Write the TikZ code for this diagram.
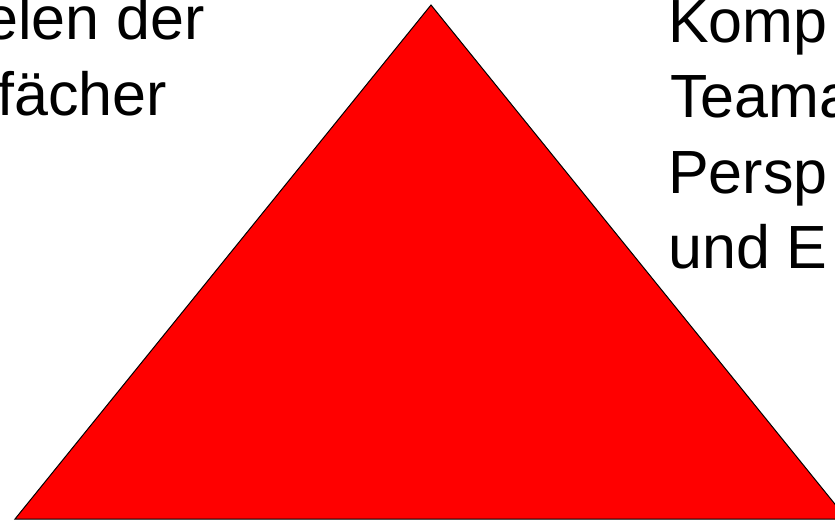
\documentclass[tikz,border=0pt]{standalone}
\usepackage{fontspec}
\setmainfont{Liberation Sans}

\begin{document}
\begin{tikzpicture}[
    x=1pt, y=-1pt,
    every node/.style={font=\fontsize{61}{75}\selectfont},
    txt/.style={anchor=base west, inner sep=0pt},
    tri/.style={draw=black, line width=1pt, fill=red}
]
\useasboundingbox (0,0) rectangle (835,520);
\clip (0,0) rectangle (835,520);

%% ---- Triangle ----
\coordinate (apex) at (431,5);
\coordinate (bl) at (15,519);
\coordinate (br) at (847,519);
\draw[tri] (apex) -- (bl) -- (br) -- cycle;

%% ---- Left text ----
\node[txt] (l1) at (-16,39) {elen der};
\node[txt] (l2) at (-3,115) {fächer};

%% ---- Right text ----
\node[txt] (r1) at (668,42) {Komp};
\node[txt] (r2) at (670,117.5) {Teama};
\node[txt] (r3) at (668,193) {Persp};
\node[txt] (r4) at (668,268) {und E};

\end{tikzpicture}
\end{document}
